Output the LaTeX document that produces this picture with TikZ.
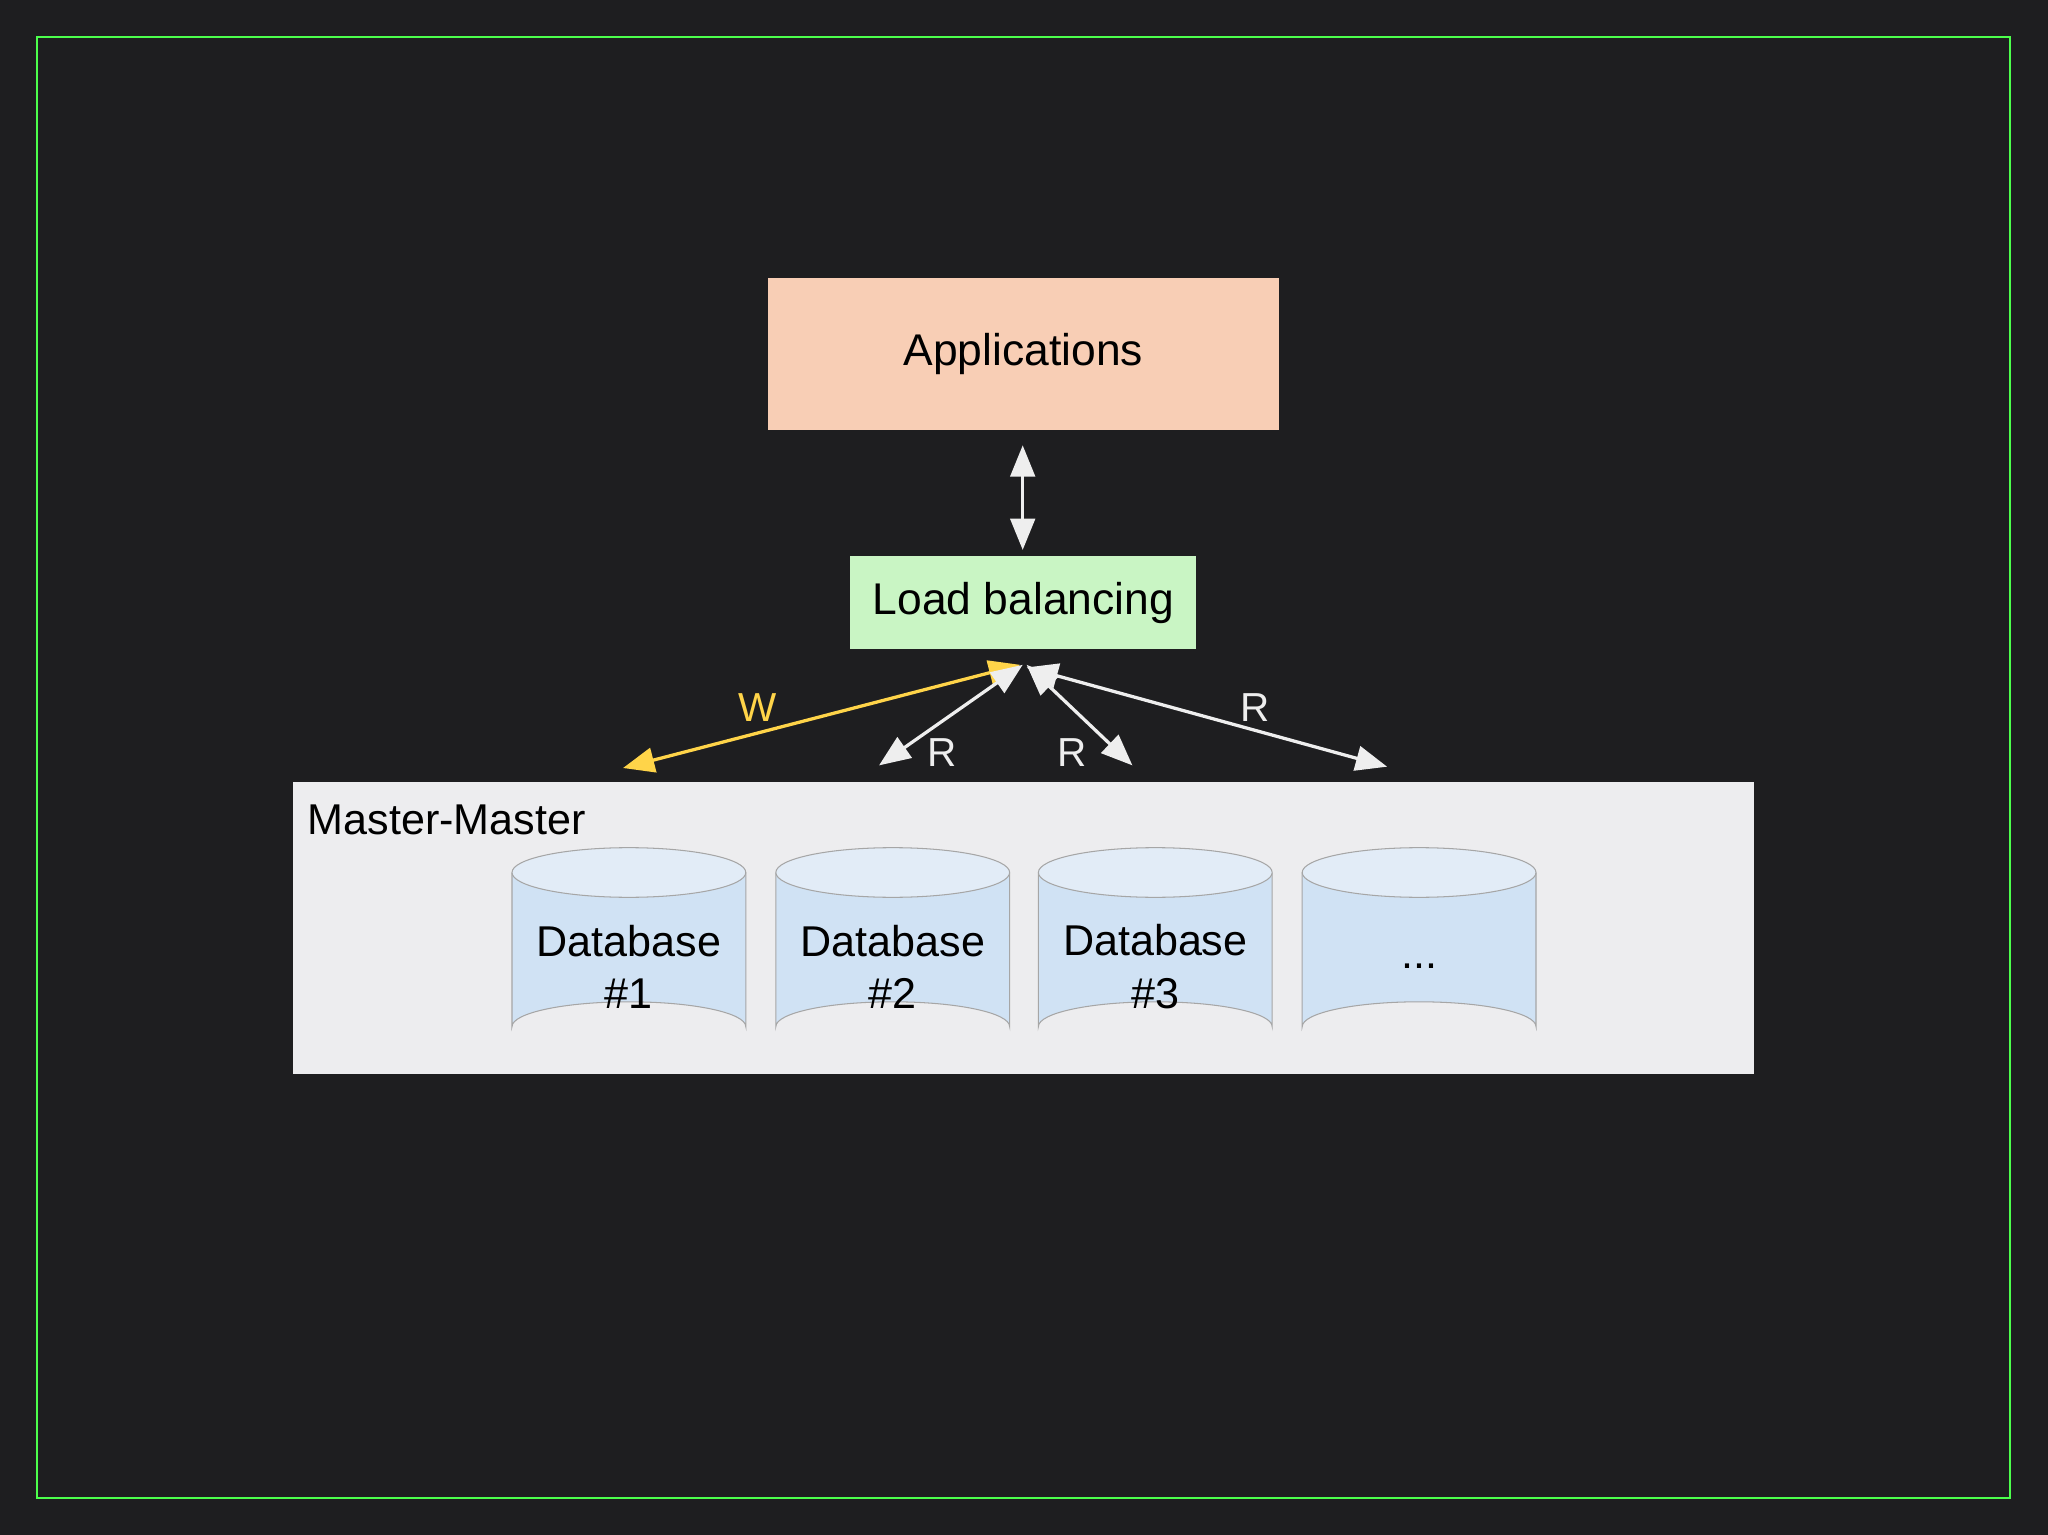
\documentclass[tikz,border=0pt]{standalone}
\usepackage{fontspec}
\setmainfont{Liberation Sans}
\usetikzlibrary{arrows.meta}
\definecolor{bg}{HTML}{1E1E20}
\definecolor{appc}{HTML}{F8CEB5}
\definecolor{lbc}{HTML}{C9F5C4}
\definecolor{mmc}{HTML}{EDEDEF}
\definecolor{dbc}{HTML}{D0E2F4}
\definecolor{dbt}{HTML}{E2ECF7}
\definecolor{wy}{HTML}{FFD449}
\definecolor{ar}{HTML}{EEEEEE}
\begin{document}
\begin{tikzpicture}[x=1pt,y=-1pt,
  box/.style={draw=none,inner sep=0pt,font=\fontsize{34}{40}\selectfont},
  con/.style={line width=2.5pt,{Triangle[length=24pt,width=19pt]}-{Triangle[length=24pt,width=19pt]}},
  lab/.style={font=\fontsize{31}{36}\selectfont}]
\useasboundingbox (0,0) rectangle (1568,1175);
\fill[bg] (0,0) rectangle (1568,1175);
\draw[green!70!white,line width=1.5pt] (28,28) rectangle (1539,1147);
\node[box,fill=appc,minimum width=391pt,minimum height=116pt] (app) at (783.5,271) {Applications};
\node[box,fill=lbc,minimum width=265pt,minimum height=71pt] (lb) at (783.5,461.5) {Load balancing};
\node[box,fill=mmc,minimum width=1119pt,minimum height=223pt] (mm) at (783.5,710.5) {};
\node[lab,anchor=west,font=\fontsize{33}{38}\selectfont] (mml) at (232,628) {Master-Master};
\foreach \x/\t [count=\i] in {392/{Database\\\#1},594/{Database\\\#2},795/{Database\\\#3},997/{...}}{
  \fill[dbc,draw=gray!70,line width=0.8pt] (\x,668) -- (\x,786) arc[start angle=180,end angle=360,x radius=89.5pt,y radius=-19pt] -- (\x+179,668);
  \draw[fill=dbt,draw=gray!70,line width=0.8pt] (\x+89.5,668) ellipse[x radius=89.5pt,y radius=19pt];
  \node[box,align=center,font=\fontsize{33}{40}\selectfont] (db\i) at (\x+89.5,740) {\t};
}
\coordinate (t1) at (783,341); \coordinate (t2) at (783,421);
\draw[con,ar,line width=2pt] (t1) -- (t2);
\coordinate (c) at (783,508);
\coordinate (w) at (477,588);
\coordinate (r1) at (673,586);
\coordinate (r2) at (867,586);
\coordinate (r3) at (1062,587);
\draw[con,wy] (781,509) -- (w);
\draw[con,ar] (783,509) -- (r1);
\draw[con,ar] (786,509) -- (r2);
\draw[con,ar] (786,511) -- (r3);
\node[lab,text=wy] (lw) at (580,542) {W};
\node[lab,text=ar] (l1) at (721,576) {R};
\node[lab,text=ar] (l2) at (821,576) {R};
\node[lab,text=ar] (l3) at (961,542) {R};
\end{tikzpicture}
\end{document}
